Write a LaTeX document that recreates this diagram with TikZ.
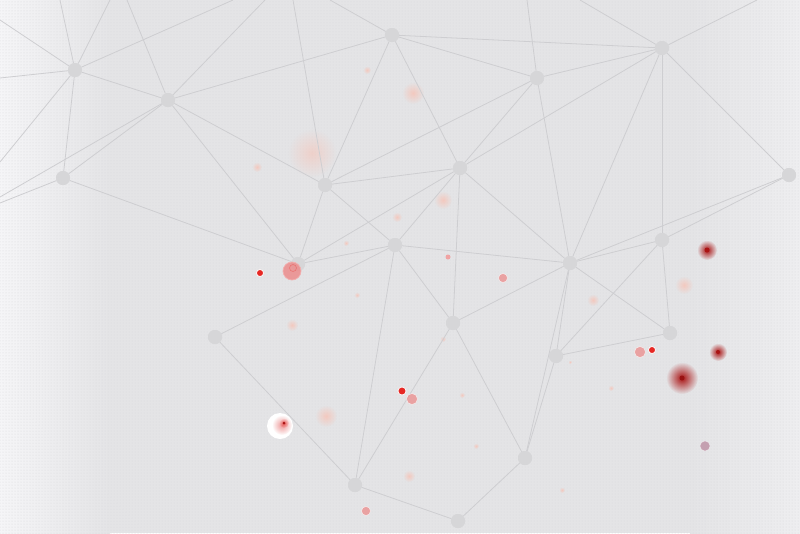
\documentclass[tikz,border=0pt]{standalone}
\usetikzlibrary{fadings,patterns}
\definecolor{bg}{RGB}{228,228,230}
\definecolor{bgL}{RGB}{245,245,247}
\definecolor{bgR}{RGB}{238,238,240}
\definecolor{dotc}{RGB}{216,216,219}
\definecolor{linec}{RGB}{206,206,209}
\definecolor{nodec}{RGB}{214,214,216}
\definecolor{redc}{RGB}{230,40,36}
\definecolor{pinkc}{RGB}{236,140,140}
\definecolor{darkred}{RGB}{170,20,20}
\definecolor{peach}{RGB}{250,190,175}
\definecolor{mauve}{RGB}{196,160,176}
\tikzfading[name=glowfade, inner color=transparent!0, outer color=transparent!100]
\tikzset{
  gnode/.style={circle, fill=nodec, minimum size=14pt, inner sep=0pt},
  edge/.style={draw=linec, line width=0.8pt},
  reddot/.style={circle, fill=redc, draw=white, line width=0.7pt, minimum size=8pt, inner sep=0pt},
  pinkdot/.style={circle, fill=pinkc, fill opacity=0.75, draw=white, draw opacity=0.6, line width=0.6pt, inner sep=0pt},
  faint/.style={fill=peach, path fading=glowfade, fill opacity=0.7},
  darkglow/.style={fill=darkred, path fading=glowfade}
}
\begin{document}
\begin{tikzpicture}[x=1pt,y=-1pt]
\useasboundingbox (0,0) rectangle (800,533);
% background
\fill[bg] (0,0) rectangle (800,533);
\shade[left color=bgL, right color=bg] (0,0) rectangle (110,533);
\shade[left color=bg, right color=bgR] (690,0) rectangle (800,533);
\fill[pattern=dots, pattern color=dotc] (0,0) rectangle (800,533);

% faint glows
\fill[faint, fill opacity=0.5] (312,153) circle (24);
\fill[faint] (413,93) circle (11);
\fill[faint] (367,70) circle (4);
\fill[faint] (257,167) circle (5);
\fill[faint] (397,217) circle (5);
\fill[faint] (443,200) circle (9);
\fill[faint] (346,243) circle (3);
\fill[faint] (357,295) circle (3);
\fill[faint] (292,325) circle (6);
\fill[faint] (326,416) circle (11);
\fill[faint] (409,476) circle (6);
\fill[faint] (462,395) circle (3);
\fill[faint] (476,446) circle (3);
\fill[faint] (443,339) circle (3);
\fill[faint] (593,300) circle (6);
\fill[faint] (684,285) circle (9);
\fill[faint] (611,388) circle (3);
\fill[faint] (570,362) circle (2);
\fill[faint] (562,490) circle (3);

% network nodes
\node[gnode] (A) at (75,70) {};
\node[gnode] (B) at (168,100) {};
\node[gnode] (C) at (63,178) {};
\node[gnode] (D) at (325,185) {};
\node[gnode] (E) at (392,35) {};
\node[gnode] (F) at (537,78) {};
\node[gnode] (G) at (662,48) {};
\node[gnode] (H) at (460,168) {};
\node[gnode] (I) at (395,245) {};
\node[gnode] (J) at (298,264) {};
\node[gnode] (K) at (570,263) {};
\node[gnode] (L) at (662,240) {};
\node[gnode] (M) at (789,175) {};
\node[gnode] (N) at (215,337) {};
\node[gnode] (O) at (453,323) {};
\node[gnode] (P) at (670,333) {};
\node[gnode] (Q) at (556,356) {};
\node[gnode] (R) at (525,458) {};
\node[gnode] (S) at (355,485) {};
\node[gnode] (T) at (458,521) {};

% border anchor points
\coordinate (t1) at (60,0);
\coordinate (t2) at (110,0);
\coordinate (t3) at (127,0);
\coordinate (t4) at (233,0);
\coordinate (t5) at (265,0);
\coordinate (t6) at (293,0);
\coordinate (t7) at (330,0);
\coordinate (t8) at (527,0);
\coordinate (t9) at (580,0);
\coordinate (t10) at (757,0);
\coordinate (l1) at (0,20);
\coordinate (l2) at (0,78);
\coordinate (l3) at (0,162);
\coordinate (l4) at (0,197);
\coordinate (l5) at (0,203);

% connectors
\draw[edge] (A) -- (t1);
\draw[edge] (A) -- (t2);
\draw[edge] (A) -- (t4);
\draw[edge] (A) -- (l1);
\draw[edge] (A) -- (l2);
\draw[edge] (A) -- (l3);
\draw[edge] (A) -- (B);
\draw[edge] (A) -- (C);
\draw[edge] (B) -- (t3);
\draw[edge] (B) -- (t5);
\draw[edge] (B) -- (E);
\draw[edge] (B) -- (D);
\draw[edge] (B) -- (J);
\draw[edge] (B) -- (C);
\draw[edge] (B) -- (l4);
\draw[edge] (C) -- (J);
\draw[edge] (C) -- (l5);
\draw[edge] (D) -- (t6);
\draw[edge] (D) -- (E);
\draw[edge] (D) -- (F);
\draw[edge] (D) -- (H);
\draw[edge] (D) -- (I);
\draw[edge] (D) -- (J);
\draw[edge] (E) -- (t7);
\draw[edge] (E) -- (G);
\draw[edge] (E) -- (F);
\draw[edge] (E) -- (H);
\draw[edge] (F) -- (t8);
\draw[edge] (F) -- (G);
\draw[edge] (F) -- (H);
\draw[edge] (F) -- (K);
\draw[edge] (G) -- (t9);
\draw[edge] (G) -- (t10);
\draw[edge] (G) -- (H);
\draw[edge] (G) -- (K);
\draw[edge] (G) -- (L);
\draw[edge] (G) -- (M);
\draw[edge] (H) -- (O);
\draw[edge] (H) -- (I);
\draw[edge] (H) -- (J);
\draw[edge] (H) -- (K);
\draw[edge] (I) -- (J);
\draw[edge] (I) -- (N);
\draw[edge] (I) -- (S);
\draw[edge] (I) -- (O);
\draw[edge] (I) -- (K);
\draw[edge] (K) -- (L);
\draw[edge] (K) -- (M);
\draw[edge] (K) -- (P);
\draw[edge] (K) -- (Q);
\draw[edge] (K) -- (R);
\draw[edge] (K) -- (O);
\draw[edge] (L) -- (M);
\draw[edge] (L) -- (P);
\draw[edge] (L) -- (Q);
\draw[edge] (N) -- (S);
\draw[edge] (O) -- (R);
\draw[edge] (O) -- (S);
\draw[edge] (P) -- (Q);
\draw[edge] (Q) -- (R);
\draw[edge] (R) -- (T);
\draw[edge] (S) -- (T);
% redraw nodes on top of lines
\foreach \n in {A,B,C,D,E,F,G,H,I,J,K,L,M,N,O,P,Q,R,S,T}{
  \fill[nodec] (\n) circle (7);
}

% red accents
\node[reddot, minimum size=7pt] (r1) at (260,273) {};
\node[circle, fill=pinkc, fill opacity=0.85, draw=pinkc!70!white, line width=0.7pt, minimum size=18pt, inner sep=0pt] (r2) at (292,271) {};
\draw[redc!60!pinkc, line width=0.6pt, opacity=0.5] (293,268) circle (3.5);
\node[circle, fill=white, minimum size=26pt, inner sep=0pt] (w1) at (280,426) {};
\fill[pinkc, path fading=glowfade, fill opacity=0.9] (282,425) circle (10);
\fill[redc, path fading=glowfade, fill opacity=0.6] (284,423) circle (5);
\fill[darkred] (284,423) circle (1.5);
\node[reddot, minimum size=8pt] (r3) at (402,391) {};
\node[pinkdot, minimum size=11pt] (p1) at (412,399) {};
\node[pinkdot, minimum size=9pt] (p2) at (503,278) {};
\fill[pinkc!80!white] (448,257) circle (2.5);
\node[pinkdot, minimum size=9pt] (p4) at (366,511) {};
\node[pinkdot, minimum size=11pt] (p5) at (640,352) {};
\node[reddot, minimum size=7pt] (r4) at (652,350) {};
\fill[darkglow] (707,250) circle (10);
\fill[darkred] (707,250) circle (2.5);
\fill[darkglow] (718,352) circle (9);
\fill[darkred] (718,352) circle (2);
\fill[darkglow] (682,378) circle (16);
\fill[darkred!90!black] (682,378) circle (2.5);
\node[circle, fill=mauve, draw=white, draw opacity=0.5, line width=0.5pt, minimum size=10pt, inner sep=0pt] (m1) at (705,446) {};
\end{tikzpicture}
\end{document}
